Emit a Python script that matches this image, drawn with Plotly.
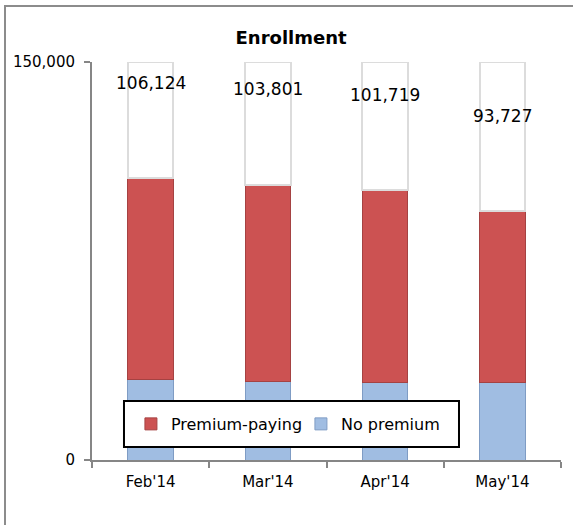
import plotly.graph_objects as go

months = ["Feb'14", "Mar'14", "Apr'14", "May'14"]
no_premium = [30200, 29700, 29300, 29300]
totals = [106124, 103801, 101719, 93727]
premium_paying = [t - n for t, n in zip(totals, no_premium)]
axis_max = 150000
label_offset = 36000
filler = [axis_max - t for t in totals]

FONT = "Verdana, DejaVu Sans, sans-serif"

fig = go.Figure()
fig.add_trace(go.Bar(
    x=months, y=no_premium, name="No premium",
    marker=dict(color="#A0BDE2", line=dict(color="#7F9CC4", width=1)),
    legendrank=2,
))
fig.add_trace(go.Bar(
    x=months, y=premium_paying, name="Premium-paying",
    marker=dict(color="#CC5252", line=dict(color="#A54242", width=1)),
    legendrank=1,
))
fig.add_trace(go.Bar(
    x=months, y=filler, name="", showlegend=False,
    marker=dict(color="white", line=dict(color="#DCDCDC", width=2)),
    hoverinfo="skip",
))

for m, t in zip(months, totals):
    fig.add_annotation(x=m, y=t + label_offset, text=f"{t:,}", showarrow=False,
                       font=dict(family=FONT, size=17, color="black"),
                       xanchor="center", yanchor="middle")

# outer frame
fig.add_shape(type="rect", xref="paper", yref="paper",
              x0=-0.1855, x1=1.06, y0=-0.21, y1=1.1407,
              line=dict(color="#8C8C8C", width=2), fillcolor="rgba(0,0,0,0)", layer="below")
# legend box
fig.add_shape(type="rect", xref="paper", yref="paper",
              x0=0.0682, x1=0.7825, y0=0.0327, y1=0.1482,
              line=dict(color="black", width=2), fillcolor="white", layer="above")

fig.update_layout(
    width=573, height=525,
    margin=dict(l=92, r=12, t=62, b=65, autoexpand=False),
    paper_bgcolor="white", plot_bgcolor="white",
    barmode="stack", bargap=0.61,
    font=dict(family=FONT, size=15, color="black"),
    title=dict(text="<b>Enrollment</b>", x=0.508, xref="container", xanchor="center",
               y=1 - 38 / 525, yref="container", yanchor="middle",
               font=dict(family=FONT, size=18, color="black")),
    showlegend=True,
    legend=dict(orientation="h", x=0.083, xanchor="left", y=0.0905, yanchor="middle",
                bgcolor="rgba(0,0,0,0)", borderwidth=0,
                font=dict(family=FONT, size=16, color="black"),
                entrywidth=125, traceorder="normal"),
    xaxis=dict(type="category", showline=True, linecolor="#868686", linewidth=2,
               ticks="outside", tickson="boundaries", ticklen=6, tickcolor="#868686",
               tickwidth=2, showgrid=False, tickfont=dict(size=15), automargin=False,
               ticklabelstandoff=7),
    yaxis=dict(range=[0, axis_max], tickvals=[0, axis_max], tickformat=",d",
               showline=True, linecolor="#868686", linewidth=2,
               ticks="outside", ticklen=6, tickcolor="#868686", tickwidth=2,
               showgrid=True, gridcolor="#868686", gridwidth=2, zeroline=False,
               ticklabelstandoff=6, tickfont=dict(size=15), automargin=False),
)

fig.write_html("out.html", config={"displayModeBar": False},
               post_script="document.body.style.margin='0';")
